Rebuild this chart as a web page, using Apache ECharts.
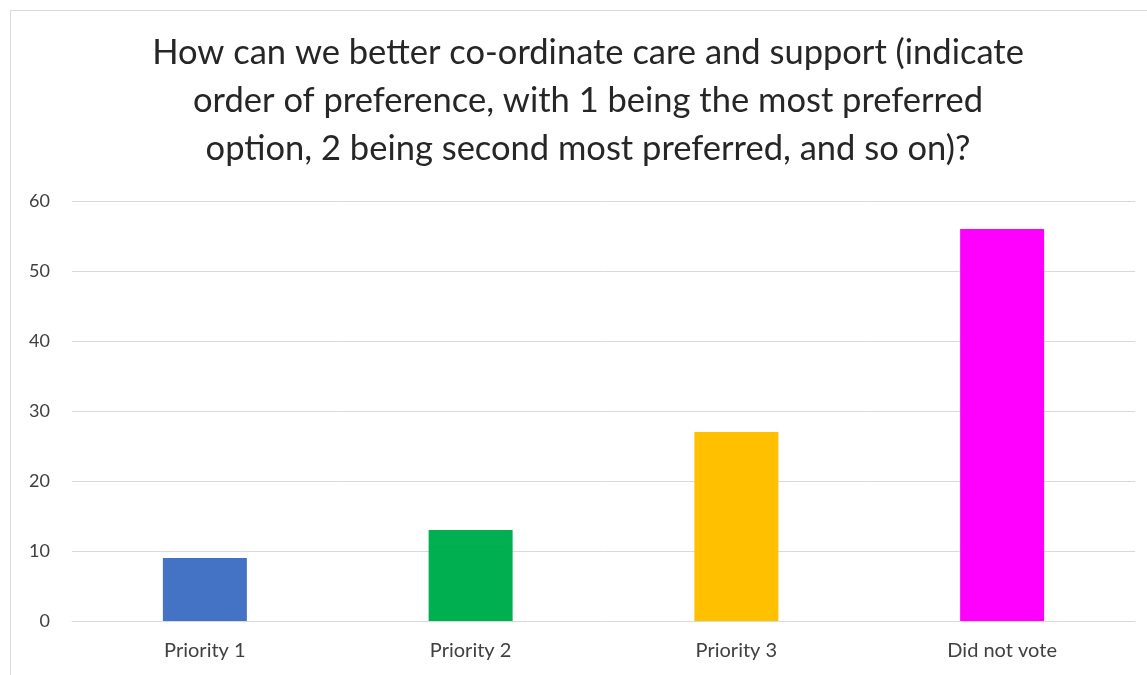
<!DOCTYPE html>
<html>
<head>
<meta charset="utf-8">
<script src="https://cdn.jsdelivr.net/npm/echarts@6/dist/echarts.min.js"></script>
<style>
  html, body { margin: 0; padding: 0; background: #fff; }
  #frame { position: absolute; left: 10px; top: 10px; width: 1200px; height: 700px; border: 1px solid #d9d9d9; box-sizing: border-box; }
  #chart { position: absolute; left: 0; top: 0; width: 1147px; height: 675px; }
</style>
</head>
<body>
<div id="frame"></div>
<div id="chart"></div>
<script>
const titleText = "How can we better co-ordinate care and support (indicate\norder of preference, with 1 being the most preferred\noption, 2 being second most preferred, and so on)?";
const categories = ["Priority 1", "Priority 2", "Priority 3", "Did not vote"];
const values = [9, 13, 27, 56];
const barColors = ["#4472C4", "#00B050", "#FFC000", "#FF00FF"];
const yTicks = { min: 0, max: 60, interval: 10 };

const chart = echarts.init(document.getElementById('chart'), null, { renderer: 'canvas' });
chart.setOption({
  animation: false,
  backgroundColor: 'transparent',
  title: {
    text: titleText,
    left: 583,
    top: 24,
    textAlign: 'center',
    textStyle: {
      fontFamily: 'Lato',
      fontWeight: 'normal',
      fontSize: 34.5,
      lineHeight: 48,
      color: '#262626'
    }
  },
  grid: { left: 72, right: 12, top: 201, bottom: 54, containLabel: false },
  xAxis: {
    type: 'category',
    data: categories,
    axisLine: { show: true, lineStyle: { color: '#d9d9d9', width: 1 } },
    axisTick: { show: false },
    axisLabel: { color: '#404040', fontFamily: 'Lato', fontSize: 20, margin: 20 }
  },
  yAxis: {
    type: 'value',
    min: yTicks.min,
    max: yTicks.max,
    interval: yTicks.interval,
    axisLine: { show: false },
    axisTick: { show: false },
    splitLine: { lineStyle: { color: '#d9d9d9', width: 1 } },
    axisLabel: { color: '#404040', fontFamily: 'Lato', fontSize: 18, margin: 22 }
  },
  series: [{
    type: 'bar',
    barWidth: '31.6%',
    data: values.map((v, i) => ({ value: v, itemStyle: { color: barColors[i] } }))
  }]
});
</script>
</body>
</html>
